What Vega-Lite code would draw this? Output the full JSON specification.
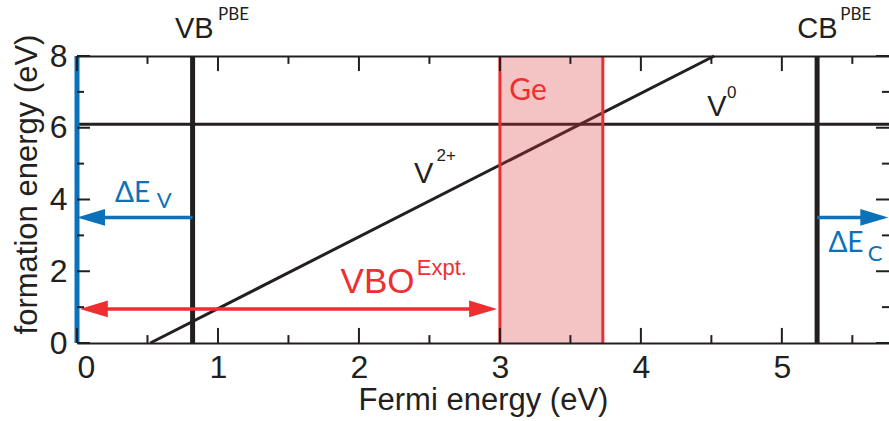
{
  "$schema": "https://vega.github.io/schema/vega-lite/v6.json",
  "width": 812,
  "height": 287,
  "autosize": "none",
  "padding": {"left": 77, "top": 56, "right": 0, "bottom": 78},
  "background": "white",
  "config": {
    "view": {"stroke": null},
    "axis": {
      "domainColor": "#231f20",
      "domainWidth": 2,
      "grid": false,
      "labelFont": "Liberation Sans",
      "labelFontSize": 32,
      "labelColor": "#231f20",
      "titleFont": "Liberation Sans",
      "titleFontSize": 31,
      "titleFontWeight": "normal",
      "titleColor": "#231f20"
    }
  },
  "resolve": {"scale": {"x": "independent", "y": "independent"}, "axis": {"x": "independent", "y": "independent"}},
  "layer": [
    {
      "description": "V0 formation energy, flat in the Fermi level",
      "data": {"values": [{"y": 6.1}]},
      "mark": {"type": "rule", "color": "#231f20", "strokeWidth": 3},
      "encoding": {
        "y": {"field": "y", "type": "quantitative", "scale": {"domain": [0, 8], "nice": false}, "axis": null}
      }
    },
    {
      "description": "V2+ formation energy, slope +2",
      "data": {"values": [{"x": 0.52, "y": 0}, {"x": 4.52, "y": 8}]},
      "mark": {"type": "line", "color": "#231f20", "strokeWidth": 3},
      "encoding": {
        "x": {"field": "x", "type": "quantitative", "scale": {"domain": [0, 5.76], "nice": false}, "axis": null},
        "y": {"field": "y", "type": "quantitative", "scale": {"domain": [0, 8], "nice": false}, "axis": null}
      }
    },
    {
      "description": "Ge band gap window",
      "data": {"values": [{"x": 3.0, "x2": 3.73}]},
      "mark": {"type": "rect", "color": "#dc3a3a", "opacity": 0.3},
      "encoding": {
        "x": {"field": "x", "type": "quantitative", "scale": {"domain": [0, 5.76], "nice": false}, "axis": null},
        "x2": {"field": "x2"}
      }
    },
    {
      "data": {"values": [{"x": 3.0}, {"x": 3.73}]},
      "mark": {"type": "rule", "color": "#ee2e31", "strokeWidth": 3},
      "encoding": {
        "x": {"field": "x", "type": "quantitative", "scale": {"domain": [0, 5.76], "nice": false}, "axis": null}
      }
    },
    {
      "description": "PBE band edges",
      "data": {"values": [{"edge": "VB", "x": 0.82}, {"edge": "CB", "x": 5.25}]},
      "mark": {"type": "rule", "color": "#231f20", "strokeWidth": 5},
      "encoding": {
        "x": {"field": "x", "type": "quantitative", "scale": {"domain": [0, 5.76], "nice": false}, "axis": null}
      }
    },
    {
      "data": {"values": [{"x": 0}]},
      "mark": {"type": "rule", "color": "#0b72b9", "strokeWidth": 5},
      "encoding": {
        "x": {"field": "x", "type": "quantitative", "scale": {"domain": [0, 5.76], "nice": false}, "axis": null}
      }
    },
    {
      "description": "arrow shafts; carries the labelled bottom and left axes",
      "data": {
        "values": [
          {"arrow": "band", "x": 0.1, "x2": 0.82, "y": 3.5},
          {"arrow": "band", "x": 5.25, "x2": 5.65, "y": 3.5},
          {"arrow": "vbo", "x": 0.12, "x2": 2.86, "y": 0.95}
        ]
      },
      "mark": {"type": "rule", "strokeWidth": 3.5},
      "encoding": {
        "x": {
          "field": "x", "type": "quantitative",
          "scale": {"domain": [0, 5.76], "nice": false},
          "axis": {
            "orient": "bottom", "title": "Fermi energy (eV)", "zindex": 1,
            "values": [0, 1, 2, 3, 4, 5], "format": "d",
            "ticks": false, "labelPadding": 9, "titlePadding": 2
          }
        },
        "x2": {"field": "x2"},
        "y": {
          "field": "y", "type": "quantitative",
          "scale": {"domain": [0, 8], "nice": false},
          "axis": {
            "orient": "left", "title": "formation energy (eV)", "domain": false,
            "values": [0, 2, 4, 6, 8], "format": "d",
            "ticks": false, "labelPadding": 10, "titlePadding": 6, "titleY": 128
          }
        },
        "color": {"field": "arrow", "type": "nominal", "scale": {"domain": ["band", "vbo"], "range": ["#0b72b9", "#ee2e31"]}, "legend": null}
      }
    },
    {
      "description": "arrow heads",
      "data": {
        "values": [
          {"arrow": "band", "dir": "left", "x": 0, "y": 3.5},
          {"arrow": "band", "dir": "right", "x": 5.755, "y": 3.5},
          {"arrow": "vbo", "dir": "left", "x": 0.02, "y": 0.95},
          {"arrow": "vbo", "dir": "right", "x": 2.98, "y": 0.95}
        ]
      },
      "mark": {"type": "point", "filled": true, "opacity": 1, "size": 784, "strokeWidth": 0},
      "encoding": {
        "x": {"field": "x", "type": "quantitative", "scale": {"domain": [0, 5.76], "nice": false}, "axis": null},
        "y": {"field": "y", "type": "quantitative", "scale": {"domain": [0, 8], "nice": false}, "axis": null},
        "shape": {"field": "dir", "type": "nominal", "scale": {"domain": ["left", "right"], "range": ["M0,0L2,-0.6L2,0.6Z", "M0,0L-2,-0.6L-2,0.6Z"]}, "legend": null},
        "color": {"field": "arrow", "type": "nominal", "scale": {"domain": ["band", "vbo"], "range": ["#0b72b9", "#ee2e31"]}, "legend": null}
      }
    },
    {
      "description": "black labels; carries the top frame line",
      "data": {"values": [{"t": "VB", "x": 0.695, "y": 8.5}, {"t": "CB", "x": 5.11, "y": 8.5}, {"t": "V", "x": 4.47, "y": 6.33}, {"t": "V", "x": 2.39, "y": 4.47}]},
      "mark": {"type": "text", "align": "left", "baseline": "alphabetic", "font": "Liberation Sans", "fontSize": 29, "color": "#231f20"},
      "encoding": {
        "x": {
          "field": "x", "type": "quantitative",
          "scale": {"domain": [0, 5.76], "nice": false},
          "axis": {"orient": "top", "title": null, "labels": false, "ticks": false, "zindex": 1}
        },
        "y": {"field": "y", "type": "quantitative", "scale": {"domain": [0, 8], "nice": false}, "axis": null},
        "text": {"field": "t"}
      }
    },
    {
      "data": {"values": [{"t": "PBE", "x": 1.0, "y": 8.99}, {"t": "PBE", "x": 5.415, "y": 8.99}]},
      "mark": {"type": "text", "align": "left", "baseline": "alphabetic", "font": "Lato", "fontSize": 17, "color": "#231f20"},
      "encoding": {
        "x": {"field": "x", "type": "quantitative", "scale": {"domain": [0, 5.76], "nice": false}, "axis": null},
        "y": {"field": "y", "type": "quantitative", "scale": {"domain": [0, 8], "nice": false}, "axis": null},
        "text": {"field": "t"}
      }
    },
    {
      "data": {"values": [{"t": "0", "x": 4.61, "y": 6.82}, {"t": "2+", "x": 2.55, "y": 5.06}]},
      "mark": {"type": "text", "align": "left", "baseline": "alphabetic", "font": "Liberation Sans", "fontSize": 17, "color": "#231f20"},
      "encoding": {
        "x": {"field": "x", "type": "quantitative", "scale": {"domain": [0, 5.76], "nice": false}, "axis": null},
        "y": {"field": "y", "type": "quantitative", "scale": {"domain": [0, 8], "nice": false}, "axis": null},
        "text": {"field": "t"}
      }
    },
    {
      "data": {"values": [{"t": "Ge", "x": 3.066, "y": 6.78}]},
      "mark": {"type": "text", "align": "left", "baseline": "alphabetic", "font": "Lato", "fontSize": 30, "color": "#ee2e31"},
      "encoding": {
        "x": {"field": "x", "type": "quantitative", "scale": {"domain": [0, 5.76], "nice": false}, "axis": null},
        "y": {"field": "y", "type": "quantitative", "scale": {"domain": [0, 8], "nice": false}, "axis": null},
        "text": {"field": "t"}
      }
    },
    {
      "data": {"values": [{"t": "VBO", "x": 1.87, "y": 1.4}]},
      "mark": {"type": "text", "align": "left", "baseline": "alphabetic", "font": "Liberation Sans", "fontSize": 35, "color": "#ee2e31"},
      "encoding": {
        "x": {"field": "x", "type": "quantitative", "scale": {"domain": [0, 5.76], "nice": false}, "axis": null},
        "y": {"field": "y", "type": "quantitative", "scale": {"domain": [0, 8], "nice": false}, "axis": null},
        "text": {"field": "t"}
      }
    },
    {
      "data": {"values": [{"t": "Expt.", "x": 2.41, "y": 1.9}]},
      "mark": {"type": "text", "align": "left", "baseline": "alphabetic", "font": "Liberation Sans", "fontSize": 22, "color": "#ee2e31"},
      "encoding": {
        "x": {"field": "x", "type": "quantitative", "scale": {"domain": [0, 5.76], "nice": false}, "axis": null},
        "y": {"field": "y", "type": "quantitative", "scale": {"domain": [0, 8], "nice": false}, "axis": null},
        "text": {"field": "t"}
      }
    },
    {
      "data": {"values": [{"t": "ΔE", "x": 0.27, "y": 3.94}, {"t": "ΔE", "x": 5.33, "y": 2.55}]},
      "mark": {"type": "text", "align": "left", "baseline": "alphabetic", "font": "Lato", "fontSize": 28, "color": "#0b72b9"},
      "encoding": {
        "x": {"field": "x", "type": "quantitative", "scale": {"domain": [0, 5.76], "nice": false}, "axis": null},
        "y": {"field": "y", "type": "quantitative", "scale": {"domain": [0, 8], "nice": false}, "axis": null},
        "text": {"field": "t"}
      }
    },
    {
      "data": {"values": [{"t": "V", "x": 0.565, "y": 3.77}, {"t": "C", "x": 5.61, "y": 2.29}]},
      "mark": {"type": "text", "align": "left", "baseline": "alphabetic", "font": "Lato", "fontSize": 22, "color": "#0b72b9"},
      "encoding": {
        "x": {"field": "x", "type": "quantitative", "scale": {"domain": [0, 5.76], "nice": false}, "axis": null},
        "y": {"field": "y", "type": "quantitative", "scale": {"domain": [0, 8], "nice": false}, "axis": null},
        "text": {"field": "t"}
      }
    },
    {
      "description": "inward frame ticks on all four edges: whole eV (bottom/top) and even eV (left/right) are long, the rest short",
      "data": {"values": [
        {"x": 0, "x2": 0, "y": 0, "y2": 0.42}, {"x": 1, "x2": 1, "y": 0, "y2": 0.42}, {"x": 2, "x2": 2, "y": 0, "y2": 0.42},
        {"x": 3, "x2": 3, "y": 0, "y2": 0.42}, {"x": 4, "x2": 4, "y": 0, "y2": 0.42}, {"x": 5, "x2": 5, "y": 0, "y2": 0.42},
        {"x": 0.5, "x2": 0.5, "y": 0, "y2": 0.22}, {"x": 1.5, "x2": 1.5, "y": 0, "y2": 0.22}, {"x": 2.5, "x2": 2.5, "y": 0, "y2": 0.22},
        {"x": 3.5, "x2": 3.5, "y": 0, "y2": 0.22}, {"x": 4.5, "x2": 4.5, "y": 0, "y2": 0.22}, {"x": 5.5, "x2": 5.5, "y": 0, "y2": 0.22},
        {"x": 0, "x2": 0, "y": 8, "y2": 7.58}, {"x": 1, "x2": 1, "y": 8, "y2": 7.58}, {"x": 2, "x2": 2, "y": 8, "y2": 7.58},
        {"x": 3, "x2": 3, "y": 8, "y2": 7.58}, {"x": 4, "x2": 4, "y": 8, "y2": 7.58}, {"x": 5, "x2": 5, "y": 8, "y2": 7.58},
        {"x": 0.5, "x2": 0.5, "y": 8, "y2": 7.78}, {"x": 1.5, "x2": 1.5, "y": 8, "y2": 7.78}, {"x": 2.5, "x2": 2.5, "y": 8, "y2": 7.78},
        {"x": 3.5, "x2": 3.5, "y": 8, "y2": 7.78}, {"x": 4.5, "x2": 4.5, "y": 8, "y2": 7.78}, {"x": 5.5, "x2": 5.5, "y": 8, "y2": 7.78},
        {"x": 0, "x2": 0.092, "y": 0, "y2": 0}, {"x": 0, "x2": 0.092, "y": 2, "y2": 2}, {"x": 0, "x2": 0.092, "y": 4, "y2": 4},
        {"x": 0, "x2": 0.092, "y": 6, "y2": 6}, {"x": 0, "x2": 0.092, "y": 8, "y2": 8},
        {"x": 0, "x2": 0.05, "y": 1, "y2": 1}, {"x": 0, "x2": 0.05, "y": 3, "y2": 3}, {"x": 0, "x2": 0.05, "y": 5, "y2": 5}, {"x": 0, "x2": 0.05, "y": 7, "y2": 7},
        {"x": 5.668, "x2": 5.76, "y": 0, "y2": 0}, {"x": 5.668, "x2": 5.76, "y": 2, "y2": 2}, {"x": 5.668, "x2": 5.76, "y": 4, "y2": 4},
        {"x": 5.668, "x2": 5.76, "y": 6, "y2": 6}, {"x": 5.668, "x2": 5.76, "y": 8, "y2": 8},
        {"x": 5.71, "x2": 5.76, "y": 1, "y2": 1}, {"x": 5.71, "x2": 5.76, "y": 3, "y2": 3}, {"x": 5.71, "x2": 5.76, "y": 5, "y2": 5}, {"x": 5.71, "x2": 5.76, "y": 7, "y2": 7}
      ]},
      "mark": {"type": "rule", "color": "#231f20", "strokeWidth": 2, "opacity": 1},
      "encoding": {
        "x": {"field": "x", "type": "quantitative", "scale": {"domain": [0, 5.76], "nice": false}, "axis": null},
        "x2": {"field": "x2"},
        "y": {"field": "y", "type": "quantitative", "scale": {"domain": [0, 8], "nice": false}, "axis": null},
        "y2": {"field": "y2"}
      }
    }
  ]
}
